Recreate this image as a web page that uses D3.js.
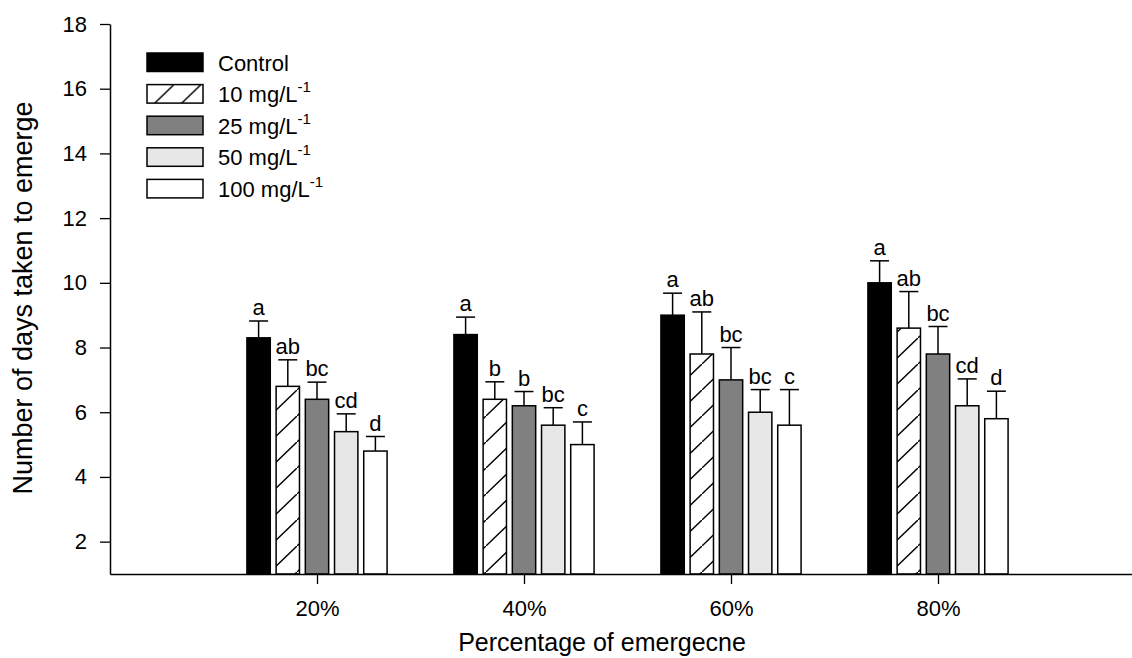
<!DOCTYPE html>
<html>
<head>
<meta charset="utf-8">
<script src="https://cdn.jsdelivr.net/npm/d3@7"></script>
<style>
    body { margin: 0; background: #fff; }
    svg { display: block; font-family: "Liberation Sans", Arial, sans-serif; }
</style>
</head>
<body>
<svg id="chart" width="1132" height="658"></svg>
<script>
    // chart values
    var categories = ["20%", "40%", "60%", "80%"];
    var series = ["Control", "10 mg/L", "25 mg/L", "50 mg/L", "100 mg/L"];
    var means = [
        [8.3, 8.4, 9.0, 10.0],
        [6.8, 6.4, 7.8, 8.6],
        [6.4, 6.2, 7.0, 7.8],
        [5.4, 5.6, 6.0, 6.2],
        [4.8, 5.0, 5.6, 5.8]
    ];
    var errors = [
        [0.52, 0.54, 0.68, 0.68],
        [0.82, 0.54, 1.3, 1.13],
        [0.53, 0.44, 1.0, 0.85],
        [0.55, 0.54, 0.7, 0.83],
        [0.45, 0.7, 1.1, 0.85]
    ];
    var letters = [
        ["a", "a", "a", "a"],
        ["ab", "b", "ab", "ab"],
        ["bc", "b", "bc", "bc"],
        ["cd", "bc", "bc", "cd"],
        ["d", "c", "c", "d"]
    ];
    var yTicks = [2, 4, 6, 8, 10, 12, 14, 16, 18];
    var fills = ["#000000", "url(#hatch)", "#808080", "#e6e7e6", "#ffffff"];

    var svg = d3.select("#chart");

    var defs = svg.append("defs");
    var hatch = defs.append("pattern")
        .attr("id", "hatch")
        .attr("patternUnits", "userSpaceOnUse")
        .attr("width", 27)
        .attr("height", 26);
    hatch.append("rect").attr("width", 27).attr("height", 26).attr("fill", "#fff");
    hatch.append("path")
        .attr("d", "M-2,27.9 L28.9,-1.9")
        .attr("stroke", "#000")
        .attr("stroke-width", 1.4);

    var x = d3.scaleLinear().domain([0, 5]).range([110, 1145]);
    var y = d3.scaleLinear().domain([1, 18]).range([574, 24]);
    var xs = d3.scaleBand().domain(d3.range(series.length))
        .range([-73, 73]).paddingInner(0.2).paddingOuter(0.1);

    function cx(ci, si) {
        return x(ci + 1) + xs(si) + xs.bandwidth() / 2;
    }

    // bars
    var groups = svg.append("g").selectAll("g")
        .data(series)
        .join("g");

    groups.each(function (s, si) {
        var g = d3.select(this);
        var rows = categories.map(function (c, ci) {
            return {ci: ci, v: means[si][ci], e: errors[si][ci], l: letters[si][ci]};
        });

        // upper error bars, drawn first so the bar outline sits over them
        g.selectAll("line.err")
            .data(rows)
            .join("line")
            .attr("class", "err")
            .attr("x1", function (d) { return cx(d.ci, si); })
            .attr("x2", function (d) { return cx(d.ci, si); })
            .attr("y1", function (d) { return y(d.v); })
            .attr("y2", function (d) { return y(d.v + d.e); })
            .attr("stroke", "#000")
            .attr("stroke-width", 1.5);
        g.selectAll("line.cap")
            .data(rows)
            .join("line")
            .attr("class", "cap")
            .attr("x1", function (d) { return cx(d.ci, si) - 9.5; })
            .attr("x2", function (d) { return cx(d.ci, si) + 9.5; })
            .attr("y1", function (d) { return y(d.v + d.e); })
            .attr("y2", function (d) { return y(d.v + d.e); })
            .attr("stroke", "#000")
            .attr("stroke-width", 1.5);

        g.selectAll("rect")
            .data(rows)
            .join("rect")
            .attr("x", function (d) { return x(d.ci + 1) + xs(si); })
            .attr("width", xs.bandwidth())
            .attr("y", function (d) { return y(d.v); })
            .attr("height", function (d) { return y(1) - y(d.v); })
            .attr("fill", fills[si])
            .attr("stroke", "#000")
            .attr("stroke-width", 1.5);

        g.selectAll("text")
            .data(rows)
            .join("text")
            .attr("x", function (d) { return cx(d.ci, si); })
            .attr("y", function (d) { return y(d.v + d.e) - 6; })
            .attr("text-anchor", "middle")
            .attr("font-size", 22)
            .attr("fill", "#000")
            .text(function (d) { return d.l; });
    });

    // axes
    var yAxis = svg.append("g")
        .attr("transform", "translate(110,0)")
        .call(d3.axisLeft(y).tickValues(yTicks).tickSize(10).tickPadding(13).tickSizeOuter(0));
    var xAxis = svg.append("g")
        .attr("transform", "translate(0,574)")
        .call(d3.axisBottom(x).tickValues([1, 2, 3, 4])
            .tickFormat(function (d) { return categories[d - 1]; })
            .tickSize(10).tickPadding(16).tickSizeOuter(0));
    [yAxis, xAxis].forEach(function (a) {
        a.select(".domain").attr("stroke-width", 1.5);
        a.selectAll(".tick line").attr("stroke-width", 1.3);
        a.selectAll("text")
            .attr("font-family", "'Liberation Sans', Arial, sans-serif")
            .attr("font-size", 22)
            .attr("fill", "#000");
    });

    svg.append("text")
        .attr("transform", "translate(32,298) rotate(-90)")
        .attr("text-anchor", "middle")
        .attr("font-size", 27)
        .text("Number of days taken to emerge");
    svg.append("text")
        .attr("x", 602)
        .attr("y", 651)
        .attr("text-anchor", "middle")
        .attr("font-size", 25)
        .text("Percentage of emergecne");

    // legend
    var legend = svg.append("g").attr("transform", "translate(147,53)");
    var items = legend.selectAll("g")
        .data(series)
        .join("g")
        .attr("transform", function (d, i) { return "translate(0," + (i * 31.6) + ")"; });
    items.append("rect")
        .attr("width", 56)
        .attr("height", 18.5)
        .attr("fill", function (d, i) { return fills[i]; })
        .attr("stroke", "#000")
        .attr("stroke-width", 1.5);
    var lt = items.append("text")
        .attr("x", 71)
        .attr("y", 17.5)
        .attr("font-size", 22);
    lt.append("tspan").text(function (d) { return d; });
    lt.filter(function (d, i) { return i > 0; })
        .append("tspan")
        .attr("dy", -10)
        .attr("font-size", 15)
        .text("-1");
</script>
</body>
</html>
